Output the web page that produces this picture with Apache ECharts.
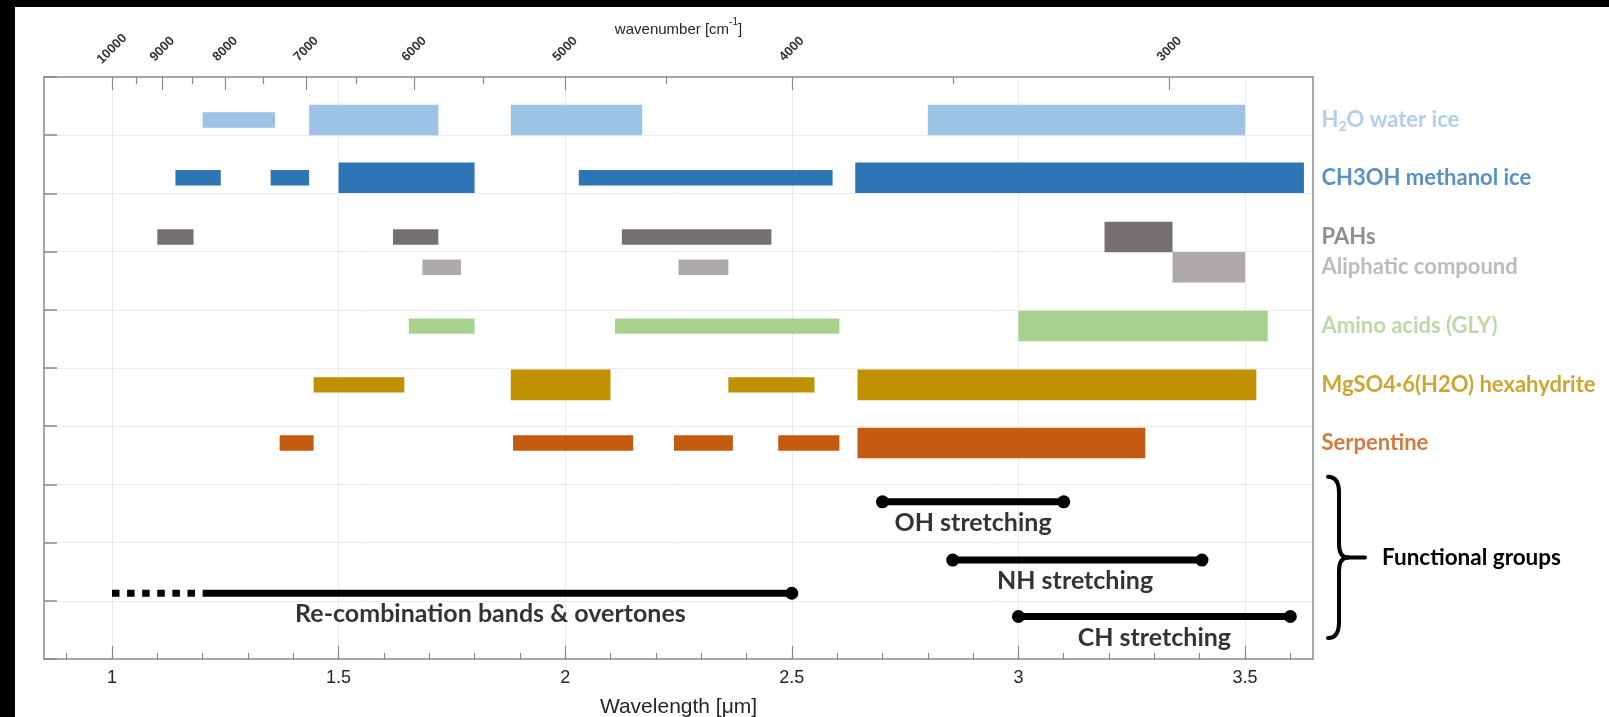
<!DOCTYPE html>
<html>
<head>
<meta charset="utf-8">
<script src="https://cdn.jsdelivr.net/npm/echarts@6/dist/echarts.min.js"></script>
<style>
  html, body { margin: 0; padding: 0; background: #fff; width: 1609px; height: 717px; overflow: hidden; }
  .edge { position: absolute; background: #000; }
  #chart { position: absolute; left: 0; top: 0; width: 1609px; height: 717px; }
</style>
</head>
<body>
<div class="edge" style="left:0;top:0;width:15px;height:717px"></div>
<div class="edge" style="left:0;top:0;width:1609px;height:7px"></div>
<div id="chart"></div>
<script>
// Wavelength axis (µm)
const xMin = 0.85, xMax = 3.65;
const wavelengthMajor = [1, 1.5, 2, 2.5, 3, 3.5];
const wavelengthMinor = [0.9, 1.0, 1.1, 1.2, 1.3, 1.4, 1.5, 1.6, 1.7, 1.8, 1.9, 2.0, 2.1, 2.2,
                         2.3, 2.4, 2.5, 2.6, 2.7, 2.8, 2.9, 3.0, 3.1, 3.2, 3.3, 3.4, 3.5, 3.6];
// Wavenumber axis (cm-1), placed at 1e4 / wavenumber on the wavelength scale
const wavenumberMajor = [10000, 9000, 8000, 7000, 6000, 5000, 4000, 3000];
const wavenumberMinor = [9500, 8500, 7500, 6500, 5500, 4500, 3500];

// Absorption features per material: [start µm, end µm, strong band (1) / weak band (0)]
const materials = ['H2O water ice', 'CH3OH methanol ice', 'PAHs', 'Aliphatic compound',
                   'Amino acids (GLY)', 'MgSO4·6(H2O) hexahydrite', 'Serpentine'];
const materialRows = [9.26, 8.27, 7.25, 6.73, 5.72, 4.71, 3.71];
const materialColors = ['#9DC3E6', '#2E75B6', '#767171', '#AEAAAA', '#A9D18E', '#BF9000', '#C55A11'];

const waterIceBands   = [[1.20, 1.36, 0], [1.435, 1.72, 1], [1.88, 2.17, 1], [2.80, 3.50, 1]];
const methanolBands   = [[1.14, 1.24, 0], [1.35, 1.435, 0], [1.50, 1.80, 1], [2.03, 2.59, 0], [2.64, 3.63, 1]];
const pahBands        = [[1.10, 1.18, 0], [1.62, 1.72, 0], [2.125, 2.455, 0], [3.19, 3.34, 1]];
const aliphaticBands  = [[1.685, 1.77, 0], [2.25, 2.36, 0], [3.34, 3.50, 1]];
const aminoAcidBands  = [[1.655, 1.80, 0], [2.11, 2.605, 0], [3.00, 3.55, 1]];
const hexahydriteBands = [[1.445, 1.645, 0], [1.88, 2.10, 1], [2.36, 2.55, 0], [2.645, 3.525, 1]];
const serpentineBands = [[1.37, 1.445, 0], [1.885, 2.15, 0], [2.24, 2.37, 0], [2.47, 2.605, 0], [2.645, 3.28, 1]];
const materialBands = [waterIceBands, methanolBands, pahBands, aliphaticBands,
                       aminoAcidBands, hexahydriteBands, serpentineBands];

// Functional groups: wavelength spans, rows and caption centres
const groupNames = ['OH stretching', 'NH stretching', 'Re-combination bands & overtones', 'CH stretching'];
const groupFrom = [2.70, 2.855, 1.20, 3.00];
const groupTo = [3.10, 3.405, 2.50, 3.60];
const groupRow = [2.70, 1.70, 1.13, 0.73];
const groupDottedFrom = [null, null, 1.00, null];
const groupCaptionX = [2.90, 3.125, 1.835, 3.30];

const toMicron = wn => 1e4 / wn;

const chart = echarts.init(document.getElementById('chart'), null, { renderer: 'canvas' });

const axisGray = '#8a8a8a';
const gridGray = '#ebebeb';
const textFont = 'Lato';
const axisFont = '"Liberation Sans", Arial, sans-serif';

function renderBand(params, api) {
  const row = api.value(2);
  const p0 = api.coord([api.value(0), row]);
  const p1 = api.coord([api.value(1), row]);
  const unit = api.size([0, 1])[1];
  const h = unit * (api.value(3) ? 0.525 : 0.265);
  return {
    type: 'rect',
    shape: { x: p0[0], y: p0[1] - h / 2, width: p1[0] - p0[0], height: h },
    style: { fill: api.visual('color') }
  };
}

const series = [];

materials.forEach((name, i) => {
  series.push({
    type: 'custom',
    name: name,
    renderItem: renderBand,
    itemStyle: { color: materialColors[i] },
    encode: { x: [0, 1], y: 2 },
    data: materialBands[i].map(b => [b[0], b[1], materialRows[i], b[2]]),
    z: 3
  });
});

// Material names right of the plot
series.push({
  type: 'scatter',
  symbolSize: 1,
  clip: false,
  silent: true,
  itemStyle: { color: 'transparent' },
  z: 5,
  data: materials.map((name, i) => {
    const isWater = i === 0;
    return {
      value: [xMax, materialRows[i]],
      name: name,
      label: {
        show: true,
        position: 'right',
        distance: 8,
        formatter: isWater ? '{m|H}{s|2}{m|O water ice}' : '{m|' + name + '}',
        rich: {
          m: { fontFamily: textFont, fontWeight: 'bold', fontSize: 22, color: materialColors[i], lineHeight: 30 },
          s: { fontFamily: textFont, fontWeight: 'bold', fontSize: 14, color: materialColors[i], lineHeight: 12, padding: [12, 0, 0, 0] }
        }
      }
    };
  })
});

// Functional group ranges
groupNames.forEach((name, i) => {
  const hasDots = groupDottedFrom[i] !== null;
  if (hasDots) {
    series.push({
      type: 'line',
      silent: true,
      showSymbol: false,
      z: 4,
      lineStyle: { color: '#000', width: 7, type: [7.5, 7.6], cap: 'butt' },
      data: [[groupDottedFrom[i], groupRow[i]], [groupFrom[i], groupRow[i]]]
    });
  }
  series.push({
    type: 'line',
    silent: true,
    symbol: 'circle',
    symbolSize: 13,
    showSymbol: true,
    z: 4,
    itemStyle: { color: '#000' },
    lineStyle: { color: '#000', width: 7, cap: 'butt' },
    data: [
      hasDots ? { value: [groupFrom[i], groupRow[i]], symbol: 'none' } : [groupFrom[i], groupRow[i]],
      [groupTo[i], groupRow[i]]
    ]
  });
});

// Functional group captions under their ranges
series.push({
  type: 'scatter',
  symbolSize: 1,
  clip: false,
  silent: true,
  itemStyle: { color: 'transparent' },
  z: 5,
  label: {
    show: true, position: 'bottom', distance: 8, formatter: '{b}',
    fontFamily: textFont, fontWeight: 'bold', fontSize: 25, color: '#000'
  },
  data: groupNames.map((name, i) => ({ value: [groupCaptionX[i], groupRow[i]], name: name }))
});

const option = {
  backgroundColor: 'transparent',
  animation: false,
  grid: { left: 44, top: 77, width: 1269, height: 582, containLabel: false, outerBoundsMode: 'none' },
  xAxis: [
    {
      // bottom wavelength axis: labelled major ticks and vertical grid lines
      type: 'value', position: 'bottom', min: xMin, max: xMax,
      axisLine: { show: true, onZero: false, lineStyle: { color: axisGray, width: 1.5 } },
      axisTick: { show: true, inside: true, length: 13, customValues: wavelengthMajor, lineStyle: { color: axisGray, width: 1.2 } },
      axisLabel: {
        show: true, customValues: wavelengthMajor, margin: 10,
        fontFamily: axisFont, fontSize: 18, color: '#262626',
        formatter: v => String(v)
      },
      splitLine: { show: true, lineStyle: { color: gridGray, width: 1 } },
      name: 'Wavelength [μm]', nameLocation: 'middle', nameGap: 38, nameMoveOverlap: false,
      nameTextStyle: { fontFamily: axisFont, fontSize: 21, color: '#262626' }
    },
    {
      // bottom minor ticks
      type: 'value', position: 'bottom', min: xMin, max: xMax,
      axisLine: { show: false, onZero: false },
      axisTick: { show: true, inside: true, length: 6, customValues: wavelengthMinor, lineStyle: { color: axisGray, width: 1.2 } },
      axisLabel: { show: false },
      splitLine: { show: false }
    },
    {
      // top wavenumber axis: labelled ticks
      type: 'value', position: 'top', min: xMin, max: xMax,
      axisLine: { show: true, onZero: false, lineStyle: { color: axisGray, width: 1.5 } },
      axisTick: { show: true, inside: true, length: 13, customValues: wavenumberMajor.map(toMicron), lineStyle: { color: axisGray, width: 1.2 } },
      axisLabel: {
        show: true, customValues: wavenumberMajor.map(toMicron),
        rotate: -45, align: 'center', verticalAlign: 'middle', margin: 28,
        fontFamily: axisFont, fontWeight: 'bold', fontSize: 13, color: '#333',
        formatter: v => String(Math.round(1e4 / v))
      },
      splitLine: { show: false },
      name: '{a|wavenumber [cm}{s|-1}{a|]}', nameLocation: 'middle', nameGap: 40, nameMoveOverlap: false,
      nameTextStyle: {
        rich: {
          a: { fontFamily: axisFont, fontSize: 15, color: '#262626', lineHeight: 20, verticalAlign: 'bottom' },
          s: { fontFamily: axisFont, fontSize: 10, color: '#262626', lineHeight: 20, verticalAlign: 'top' }
        }
      }
    },
    {
      // top wavenumber minor ticks
      type: 'value', position: 'top', min: xMin, max: xMax,
      axisLine: { show: false, onZero: false },
      axisTick: { show: true, inside: true, length: 7, customValues: wavenumberMinor.map(toMicron), lineStyle: { color: axisGray, width: 1.2 } },
      axisLabel: { show: false },
      splitLine: { show: false }
    }
  ],
  yAxis: [
    {
      type: 'value', position: 'left', min: 0, max: 10, interval: 1,
      axisLine: { show: true, onZero: false, lineStyle: { color: axisGray, width: 1.5 } },
      axisTick: { show: true, inside: true, length: 13, lineStyle: { color: axisGray, width: 1.5 } },
      axisLabel: { show: false },
      splitLine: { show: true, lineStyle: { color: gridGray, width: 1 } }
    },
    {
      type: 'value', position: 'right', min: 0, max: 10, interval: 1,
      axisLine: { show: true, onZero: false, lineStyle: { color: axisGray, width: 1.5 } },
      axisTick: { show: false },
      axisLabel: { show: false },
      splitLine: { show: false }
    }
  ],
  series: series
};

chart.setOption(option);

// Curly brace grouping the functional-group rows
(function drawBrace() {
  const top = Math.max(...groupRow) + 0.43;
  const bottom = Math.min(...groupRow) - 0.37;
  const right = chart.convertToPixel({ xAxisIndex: 0 }, xMax);
  const yT = chart.convertToPixel({ yAxisIndex: 0 }, top);
  const yB = chart.convertToPixel({ yAxisIndex: 0 }, bottom);
  const yM = (yT + yB) / 2;
  const L = right + 15, S = right + 26, T = right + 35, E = right + 52;
  const stroke = { fill: null, stroke: '#000', lineWidth: 4, lineCap: 'round' };
  const curve = (x1, y1, cx, cy, x2, y2) => ({
    type: 'bezierCurve', silent: true,
    shape: { x1: x1, y1: y1, cpx1: cx, cpy1: cy, x2: x2, y2: y2 },
    style: stroke
  });
  const seg = (x1, y1, x2, y2) => ({
    type: 'line', silent: true,
    shape: { x1: x1, y1: y1, x2: x2, y2: y2 },
    style: stroke
  });
  chart.setOption({
    graphic: [
      curve(L, yT, S, yT, S, yT + 16),
      seg(S, yT + 16, S, yM - 14),
      curve(S, yM - 14, S, yM, T, yM),
      curve(T, yM, S, yM, S, yM + 14),
      seg(S, yM + 14, S, yB - 16),
      curve(S, yB - 16, S, yB, L, yB),
      seg(T, yM, E, yM),
      {
        type: 'text', silent: true,
        x: E + 17, y: yM,
        style: {
          text: 'Functional groups', font: 'bold 22.5px Lato',
          fill: '#000', verticalAlign: 'middle', align: 'left'
        }
      }
    ]
  });
})();
</script>
</body>
</html>
